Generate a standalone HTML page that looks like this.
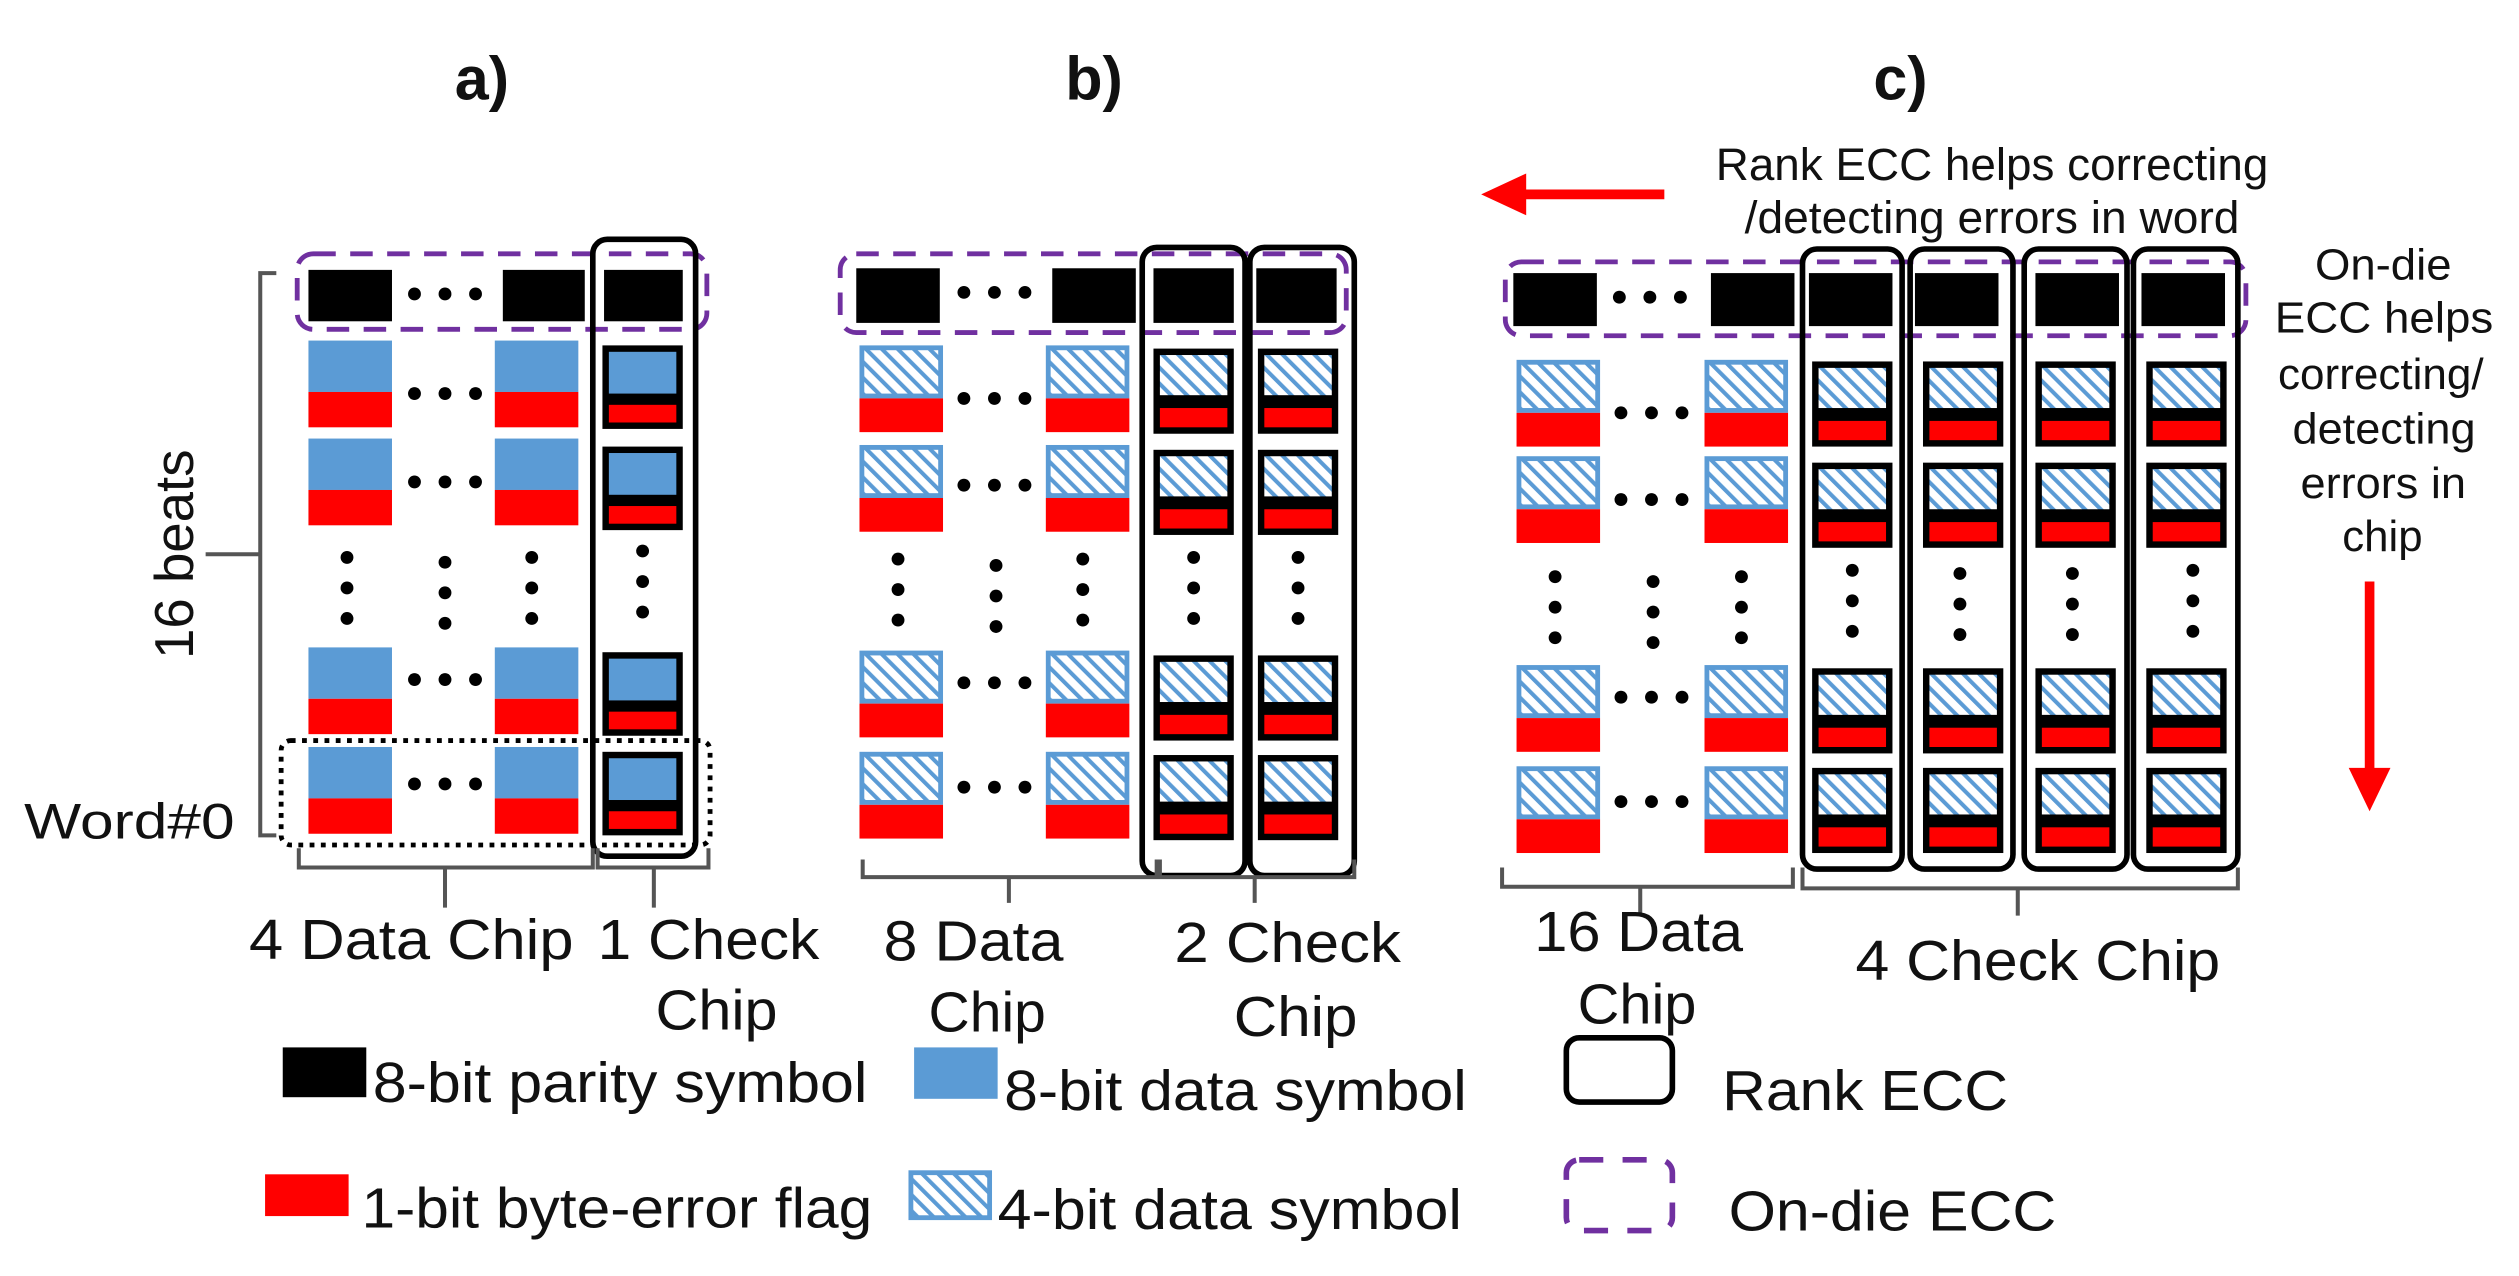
<!DOCTYPE html>
<html><head><meta charset="utf-8"><style>
html,body{margin:0;padding:0;background:#fff;}
svg{display:block;}
text{font-family:"Liberation Sans",Arial,sans-serif;fill:#111;}
</style></head><body>
<svg width="2519" height="1276" viewBox="0 0 1568 794.3" preserveAspectRatio="none" xmlns="http://www.w3.org/2000/svg">
<defs>
<pattern id="h" width="7" height="7" patternUnits="userSpaceOnUse" patternTransform="rotate(-45)">
<rect width="7" height="7" fill="#ffffff"/><rect width="2.5" height="7" fill="#5b9bd5"/>
</pattern>
<g id="db"><rect x="0" y="0" width="52" height="32" fill="#5b9bd5"/><rect x="0" y="32" width="52" height="22" fill="#ff0000"/></g>
<g id="dh"><rect x="1.5" y="1.5" width="49" height="30" fill="url(#h)" stroke="#5b9bd5" stroke-width="3"/><rect x="0" y="33" width="52" height="21" fill="#ff0000"/></g>
<g id="cb"><rect x="0" y="0" width="50" height="52" fill="#000"/><rect x="4" y="4" width="42" height="26" fill="#5b9bd5"/><rect x="4" y="37" width="42" height="11" fill="#ff0000"/></g>
<g id="ch"><rect x="0" y="0" width="50" height="53" fill="#000"/><rect x="4" y="4" width="42" height="25" fill="url(#h)"/><rect x="4" y="37" width="42" height="12" fill="#ff0000"/></g>
<g id="hd"><circle cx="0" cy="0" r="4"/><circle cx="19" cy="0" r="4"/><circle cx="38" cy="0" r="4"/></g>
<g id="vd"><circle cx="0" cy="0" r="4"/><circle cx="0" cy="19" r="4"/><circle cx="0" cy="38" r="4"/></g>
</defs>

<!-- titles -->
<text x="300" y="62" font-size="38" font-weight="bold" text-anchor="middle">a)</text>
<text x="681" y="62" font-size="38" font-weight="bold" text-anchor="middle">b)</text>
<text x="1183" y="62" font-size="38" font-weight="bold" text-anchor="middle">c)</text>

<!-- ===== Panel a ===== -->
<rect x="192" y="168" width="52" height="32" fill="#000"/>
<rect x="313" y="168" width="51" height="32" fill="#000"/>
<rect x="376" y="168" width="49" height="32" fill="#000"/>
<use href="#hd" x="258" y="183"/>
<rect x="185" y="158" width="255" height="47" rx="10" fill="none" stroke="#7030a0" stroke-width="3" stroke-dasharray="14,9"/>
<rect x="369" y="149" width="64" height="384" rx="9" fill="none" stroke="#000" stroke-width="3.5"/>
<use href="#db" x="192" y="212"/><use href="#db" x="308" y="212"/>
<use href="#db" x="192" y="273"/><use href="#db" x="308" y="273"/>
<use href="#db" x="192" y="403"/><use href="#db" x="308" y="403"/>
<use href="#db" x="192" y="465"/><use href="#db" x="308" y="465"/>
<use href="#hd" x="258" y="245"/><use href="#hd" x="258" y="300"/><use href="#hd" x="258" y="423"/><use href="#hd" x="258" y="488"/>
<use href="#vd" x="216" y="347"/><use href="#vd" x="277" y="350"/><use href="#vd" x="331" y="347"/>
<use href="#cb" x="375" y="215"/><use href="#cb" x="375" y="278"/><use href="#cb" x="375" y="406"/><use href="#cb" x="375" y="468"/>
<use href="#vd" x="400" y="343"/>
<rect x="175" y="461" width="267" height="65" rx="6" fill="none" stroke="#000" stroke-width="3" stroke-dasharray="3,4"/>
<text x="15" y="522" font-size="31" textLength="131" lengthAdjust="spacingAndGlyphs">Word#0</text>
<path d="M172 170 H162 V520 H172 M162 345 H128" fill="none" stroke="#555" stroke-width="2.5"/>
<text x="0" y="0" font-size="34" text-anchor="middle" transform="translate(120,345) rotate(-90)">16 beats</text>
<path d="M186 528 V540 H369 V528 M277 540 V565 M372 528 V540 H441 V528 M407 540 V565" fill="none" stroke="#555" stroke-width="2.5"/>
<text x="155" y="597" font-size="35" textLength="202" lengthAdjust="spacingAndGlyphs">4 Data Chip</text>
<text x="372" y="597" font-size="35" textLength="138" lengthAdjust="spacingAndGlyphs">1 Check</text>
<text x="408" y="641" font-size="35" textLength="76" lengthAdjust="spacingAndGlyphs">Chip</text>

<!-- ===== Panel b ===== -->
<rect x="533" y="167" width="52" height="34" fill="#000"/>
<rect x="655" y="167" width="52" height="34" fill="#000"/>
<rect x="718" y="167" width="50" height="34" fill="#000"/>
<rect x="782" y="167" width="50" height="34" fill="#000"/>
<use href="#hd" x="600" y="182"/>
<rect x="523" y="158" width="315" height="49" rx="10" fill="none" stroke="#7030a0" stroke-width="3" stroke-dasharray="14,9"/>
<rect x="711" y="154" width="64" height="391" rx="9" fill="none" stroke="#000" stroke-width="3.5"/>
<rect x="778" y="154" width="65" height="391" rx="9" fill="none" stroke="#000" stroke-width="3.5"/>
<use href="#dh" x="535" y="215"/><use href="#dh" x="651" y="215"/>
<use href="#dh" x="535" y="277"/><use href="#dh" x="651" y="277"/>
<use href="#dh" x="535" y="405"/><use href="#dh" x="651" y="405"/>
<use href="#dh" x="535" y="468"/><use href="#dh" x="651" y="468"/>
<use href="#hd" x="600" y="248"/><use href="#hd" x="600" y="302"/><use href="#hd" x="600" y="425"/><use href="#hd" x="600" y="490"/>
<use href="#vd" x="559" y="348"/><use href="#vd" x="620" y="352"/><use href="#vd" x="674" y="348"/>
<use href="#ch" x="718" y="217"/><use href="#ch" x="718" y="280"/><use href="#ch" x="718" y="408"/><use href="#ch" x="718" y="470"/>
<use href="#ch" x="783" y="217"/><use href="#ch" x="783" y="280"/><use href="#ch" x="783" y="408"/><use href="#ch" x="783" y="470"/>
<use href="#vd" x="743" y="347"/><use href="#vd" x="808" y="347"/>
<path d="M537 535 V546 H720 V535 M628 546 V562 M722 535 V546 H843 V535 M781 546 V562" fill="none" stroke="#555" stroke-width="2.5"/>
<text x="550" y="598" font-size="35" textLength="112" lengthAdjust="spacingAndGlyphs">8 Data</text>
<text x="578" y="642" font-size="35" textLength="73" lengthAdjust="spacingAndGlyphs">Chip</text>
<text x="731" y="599" font-size="35" textLength="141" lengthAdjust="spacingAndGlyphs">2 Check</text>
<text x="768" y="645" font-size="35" textLength="77" lengthAdjust="spacingAndGlyphs">Chip</text>

<!-- ===== Panel c ===== -->
<path d="M1036 121 H944" stroke="#ff0000" stroke-width="6"/>
<polygon points="922,121 950,108 950,134" fill="#ff0000"/>
<text x="1068" y="112" font-size="28" textLength="344" lengthAdjust="spacingAndGlyphs">Rank ECC helps correcting</text>
<text x="1086" y="145" font-size="28" textLength="308" lengthAdjust="spacingAndGlyphs">/detecting errors in word</text>
<rect x="942" y="170" width="52" height="33" fill="#000"/>
<rect x="1065" y="170" width="52" height="33" fill="#000"/>
<rect x="1126" y="170" width="52" height="33" fill="#000"/>
<rect x="1192" y="170" width="52" height="33" fill="#000"/>
<rect x="1267" y="170" width="52" height="33" fill="#000"/>
<rect x="1333" y="170" width="52" height="33" fill="#000"/>
<use href="#hd" x="1008" y="185"/>
<rect x="937" y="163" width="461" height="46" rx="10" fill="none" stroke="#7030a0" stroke-width="3" stroke-dasharray="14,9"/>
<rect x="1122" y="155" width="62" height="386" rx="9" fill="none" stroke="#000" stroke-width="3.5"/>
<rect x="1189" y="155" width="64" height="386" rx="9" fill="none" stroke="#000" stroke-width="3.5"/>
<rect x="1260" y="155" width="64" height="386" rx="9" fill="none" stroke="#000" stroke-width="3.5"/>
<rect x="1328" y="155" width="65" height="386" rx="9" fill="none" stroke="#000" stroke-width="3.5"/>
<use href="#dh" x="944" y="224"/><use href="#dh" x="1061" y="224"/>
<use href="#dh" x="944" y="284"/><use href="#dh" x="1061" y="284"/>
<use href="#dh" x="944" y="414"/><use href="#dh" x="1061" y="414"/>
<use href="#dh" x="944" y="477"/><use href="#dh" x="1061" y="477"/>
<use href="#hd" x="1009" y="257"/><use href="#hd" x="1009" y="311"/><use href="#hd" x="1009" y="434"/><use href="#hd" x="1009" y="499"/>
<use href="#vd" x="968" y="359"/><use href="#vd" x="1029" y="362"/><use href="#vd" x="1084" y="359"/>
<use href="#ch" x="1128" y="225"/><use href="#ch" x="1128" y="288"/><use href="#ch" x="1128" y="416"/><use href="#ch" x="1128" y="478"/>
<use href="#ch" x="1197" y="225"/><use href="#ch" x="1197" y="288"/><use href="#ch" x="1197" y="416"/><use href="#ch" x="1197" y="478"/>
<use href="#ch" x="1267" y="225"/><use href="#ch" x="1267" y="288"/><use href="#ch" x="1267" y="416"/><use href="#ch" x="1267" y="478"/>
<use href="#ch" x="1336" y="225"/><use href="#ch" x="1336" y="288"/><use href="#ch" x="1336" y="416"/><use href="#ch" x="1336" y="478"/>
<use href="#vd" x="1153" y="355"/><use href="#vd" x="1220" y="357"/><use href="#vd" x="1290" y="357"/><use href="#vd" x="1365" y="355"/>
<path d="M935 540 V552 H1116 V540 M1021 552 V568 M1122 540 V553 H1393 V540 M1256 553 V570" fill="none" stroke="#555" stroke-width="2.5"/>
<text x="955" y="592" font-size="35" textLength="130" lengthAdjust="spacingAndGlyphs">16 Data</text>
<text x="982" y="637" font-size="35" textLength="74" lengthAdjust="spacingAndGlyphs">Chip</text>
<text x="1155" y="610" font-size="35" textLength="227" lengthAdjust="spacingAndGlyphs">4 Check Chip</text>
<g font-size="27">
<text x="1441" y="174" textLength="85" lengthAdjust="spacingAndGlyphs">On-die</text>
<text x="1416" y="207" textLength="136" lengthAdjust="spacingAndGlyphs">ECC helps</text>
<text x="1418" y="242" textLength="128" lengthAdjust="spacingAndGlyphs">correcting/</text>
<text x="1427" y="276" textLength="114" lengthAdjust="spacingAndGlyphs">detecting</text>
<text x="1432" y="310" textLength="103" lengthAdjust="spacingAndGlyphs">errors in</text>
<text x="1458" y="343" textLength="50" lengthAdjust="spacingAndGlyphs">chip</text>
</g>
<path d="M1475 362 V482" stroke="#ff0000" stroke-width="6"/>
<polygon points="1462,478 1488,478 1475,505" fill="#ff0000"/>

<!-- ===== Legend ===== -->
<rect x="176" y="652" width="52" height="31" fill="#000"/>
<text x="232" y="686" font-size="35" textLength="308" lengthAdjust="spacingAndGlyphs">8-bit parity symbol</text>
<rect x="569" y="652" width="52" height="32" fill="#5b9bd5"/>
<text x="625" y="691" font-size="35" textLength="288" lengthAdjust="spacingAndGlyphs">8-bit data symbol</text>
<rect x="165" y="731" width="52" height="26" fill="#ff0000"/>
<text x="225" y="764" font-size="35" textLength="318" lengthAdjust="spacingAndGlyphs">1-bit byte-error flag</text>
<rect x="567" y="730" width="49" height="28" fill="url(#h)" stroke="#5b9bd5" stroke-width="3"/>
<text x="621" y="765" font-size="35" textLength="289" lengthAdjust="spacingAndGlyphs">4-bit data symbol</text>
<rect x="975" y="646" width="66" height="40" rx="8" fill="none" stroke="#000" stroke-width="3.5"/>
<text x="1072" y="691" font-size="35" textLength="178" lengthAdjust="spacingAndGlyphs">Rank ECC</text>
<rect x="975" y="722" width="66" height="44" rx="8" fill="none" stroke="#7030a0" stroke-width="3.5" stroke-dasharray="15,12"/>
<text x="1076" y="766" font-size="35" textLength="204" lengthAdjust="spacingAndGlyphs">On-die ECC</text>
</svg>
</body></html>
